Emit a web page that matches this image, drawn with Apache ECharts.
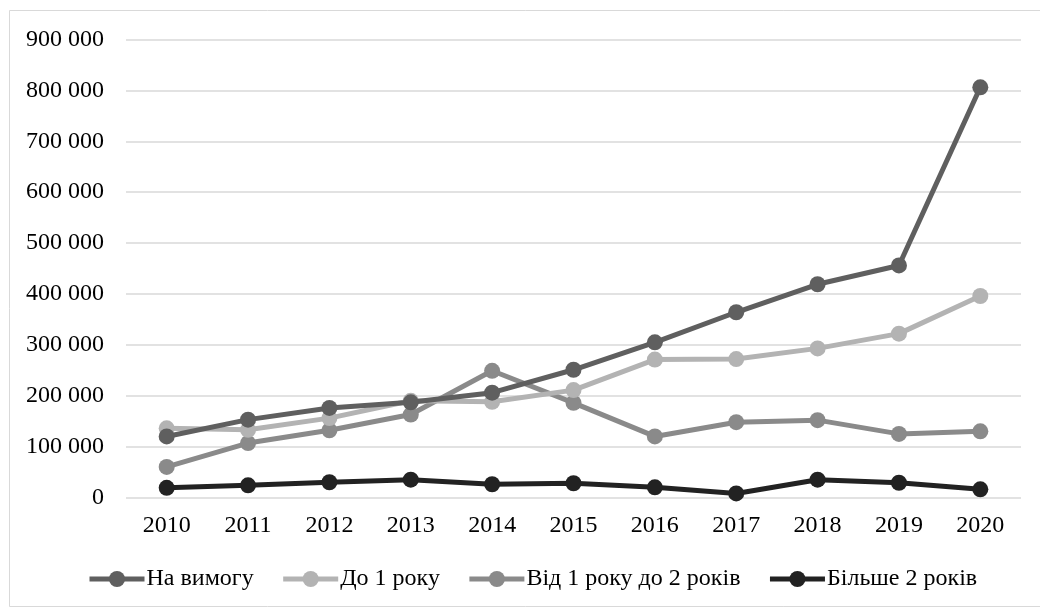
<!DOCTYPE html>
<html>
<head>
<meta charset="utf-8">
<script src="https://cdn.jsdelivr.net/npm/echarts@6/dist/echarts.min.js"></script>
<style>
  html, body { margin: 0; padding: 0; background: #fff; }
  #chart { width: 1040px; height: 610px; }
</style>
</head>
<body>
<div id="chart"></div>
<script>
// Years on the category axis
const years = ['2010', '2011', '2012', '2013', '2014', '2015', '2016', '2017', '2018', '2019', '2020'];

// Deposits by term
const onDemand = [120000, 153000, 176000, 187000, 206000, 251000, 305000, 364000, 419000, 456000, 806000];
const upTo1Year = [136000, 133000, 156000, 190000, 188000, 211000, 271000, 272000, 293000, 322000, 396000];
const from1To2Years = [60000, 107000, 132000, 163000, 249000, 186000, 120000, 148000, 152000, 125000, 130000];
const over2Years = [19000, 24000, 30000, 35000, 26000, 28000, 20000, 8000, 35000, 29000, 16000];

const seriesNames = ['На вимогу', 'До 1 року', 'Від 1 року до 2 років', 'Більше 2 років'];
const seriesData = [onDemand, upTo1Year, from1To2Years, over2Years];
const seriesColors = ['#5f5f5f', '#b3b3b3', '#8a8a8a', '#222222'];

const font = '"Liberation Serif", "Times New Roman", serif';

function formatThousands(v) {
  return String(v).replace(/\B(?=(\d{3})+(?!\d))/g, ' ');
}

const chart = echarts.init(document.getElementById('chart'), null, { renderer: 'canvas' });

chart.setOption({
  backgroundColor: '#ffffff',
  animation: false,
  textStyle: { fontFamily: font },
  graphic: [{
    type: 'rect',
    shape: { x: 9.5, y: 10.5, width: 1040, height: 596 },
    style: { fill: 'none', stroke: '#d9d9d9', lineWidth: 1 },
    silent: true,
    z: -1
  }],
  grid: { left: 126, right: 19, top: 39.5, bottom: 112.5, containLabel: false },
  legend: {
    bottom: 14,
    left: 82,
    itemWidth: 55,
    itemHeight: 20,
    itemGap: 27,
    lineStyle: { width: 5 },
    textStyle: { fontFamily: font, fontSize: 24, color: '#000', padding: [0, 0, 0, -3] },
    data: seriesNames
  },
  xAxis: {
    type: 'category',
    data: years,
    boundaryGap: true,
    axisLine: { show: false },
    axisTick: { show: false },
    axisLabel: { fontFamily: font, fontSize: 24, color: '#000', margin: 16 }
  },
  yAxis: {
    type: 'value',
    min: 0,
    max: 900000,
    interval: 100000,
    axisLine: { show: false },
    axisTick: { show: false },
    splitLine: { lineStyle: { color: '#d9d9d9', width: 1.5 } },
    axisLabel: {
      fontFamily: font, fontSize: 24, color: '#000', margin: 22,
      formatter: formatThousands
    }
  },
  series: seriesData.map((d, i) => ({
    name: seriesNames[i],
    type: 'line',
    data: d,
    symbol: 'circle',
    symbolSize: 16,
    lineStyle: { width: 5, color: seriesColors[i] },
    itemStyle: { color: seriesColors[i] },
    z: 10 - i
  }))
});
</script>
</body>
</html>
